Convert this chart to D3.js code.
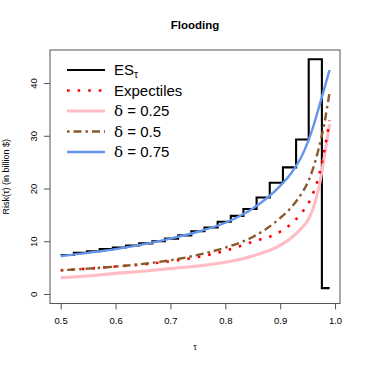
<!DOCTYPE html>
<html>
<head>
<meta charset="utf-8">
<script src="https://cdn.jsdelivr.net/npm/d3@7"></script>
<style>
  body { margin: 0; background: #fff; }
  svg text { font-family: "Liberation Sans", Arial, sans-serif; fill: #000; }
</style>
</head>
<body>
<svg width="366" height="366"></svg>
<script>
// tau grid of the smooth curves
var tauGrid = [0.5, 0.55, 0.6, 0.65, 0.7, 0.75, 0.8, 0.85, 0.9, 0.92, 0.94, 0.95, 0.96, 0.97, 0.98, 0.99];
var expectiles = [4.6, 4.9, 5.3, 5.7, 6.3, 7.1, 8.3, 10.0, 11.9, 13.4, 15.6, 17.0, 19.2, 22.3, 27.0, 33.0];
var delta25 = [3.2, 3.5, 4.0, 4.4, 4.9, 5.4, 6.1, 7.3, 9.3, 10.7, 12.7, 14.0, 16.3, 20.0, 25.8, 32.3];
var delta50 = [4.6, 4.9, 5.3, 5.8, 6.5, 7.5, 8.9, 10.9, 14.5, 16.5, 19.3, 21.2, 23.9, 27.6, 32.2, 38.3];
var delta75 = [7.3, 7.9, 8.6, 9.5, 10.6, 11.9, 13.6, 16.3, 20.6, 23.0, 26.4, 28.8, 31.8, 35.3, 38.9, 42.6];

// empirical ES (step function): break points and levels
var esTau = [0.5, 0.524, 0.548, 0.571, 0.595, 0.619, 0.643, 0.667, 0.69, 0.714, 0.738,
  0.762, 0.786, 0.81, 0.833, 0.857, 0.881, 0.905, 0.929, 0.952, 0.976, 0.99];
var esVal = [7.5, 7.9, 8.2, 8.6, 8.9, 9.3, 9.7, 10.1, 10.6, 11.2, 12.0,
  12.7, 13.8, 14.9, 16.2, 18.4, 21.2, 24.1, 29.4, 44.6, 1.2, 1.2];

var xTicks = [0.5, 0.6, 0.7, 0.8, 0.9, 1.0];
var yTicks = [0, 10, 20, 30, 40];

(function () {
  var svg = d3.select("svg");
  var left = 50, right = 340, top = 50, bottom = 303.5;

  var x = d3.scaleLinear().domain([0.4805, 1.009]).range([left, right]);
  var y = d3.scaleLinear().domain([-1.71, 46.36]).range([bottom, top]);

  svg.append("defs").append("clipPath").attr("id", "clip")
    .append("rect").attr("x", left).attr("y", top)
    .attr("width", right - left).attr("height", bottom - top);

  // title
  svg.append("text")
    .attr("x", (left + right) / 2).attr("y", 29)
    .attr("text-anchor", "middle")
    .style("font-weight", "bold").style("font-size", "11.5px")
    .text("Flooding");

  // axes
  var xAxis = svg.append("g").attr("transform", "translate(0," + bottom + ")")
    .call(d3.axisBottom(x).tickValues(xTicks).tickSize(6).tickPadding(8)
      .tickFormat(d3.format(".1f")));
  var yAxis = svg.append("g").attr("transform", "translate(" + left + ",0)")
    .call(d3.axisLeft(y).tickValues(yTicks).tickSize(6).tickPadding(0));
  [xAxis, yAxis].forEach(function (g) {
    g.select(".domain").remove();
    g.selectAll("line").attr("stroke", "#555");
    g.selectAll("text").style("font-size", "9.5px")
      .style("font-family", "'Liberation Sans', Arial, sans-serif");
  });
  yAxis.selectAll("text")
    .attr("x", 0).attr("dy", 0)
    .attr("text-anchor", "middle")
    .attr("transform", function (d) { return "translate(" + (-13) + "," + y(d) + ") rotate(-90)"; })
    .attr("y", 0);
  yAxis.selectAll(".tick").attr("transform", null);
  yAxis.selectAll(".tick line").attr("transform", function (d) { return "translate(0," + y(d) + ")"; });

  // box
  svg.append("rect").attr("x", left).attr("y", top)
    .attr("width", right - left).attr("height", bottom - top)
    .attr("fill", "none").attr("stroke", "#555").attr("stroke-width", 1);

  // axis titles
  svg.append("text")
    .attr("x", (left + right) / 2).attr("y", 350)
    .attr("text-anchor", "middle").style("font-size", "9px")
    .text("τ");
  svg.append("text")
    .attr("transform", "translate(9," + (top + bottom) / 2 + ") rotate(-90)")
    .attr("text-anchor", "middle").style("font-size", "9px")
    .text("Risk(τ) (in billion $)");

  var plot = svg.append("g").attr("clip-path", "url(#clip)");

  var smooth = d3.line()
    .x(function (d, i) { return x(tauGrid[i]); })
    .y(function (d) { return y(d); })
    .curve(d3.curveMonotoneX);

  var step = d3.line()
    .x(function (d, i) { return x(esTau[i]); })
    .y(function (d) { return y(d); })
    .curve(d3.curveStepAfter);

  var series = [
    { name: "es", data: esVal, gen: step, color: "#000", width: 2.1, dash: null },
    { name: "d25", data: delta25, gen: smooth, color: "#ffbcc4", width: 3.1, dash: null },
    { name: "exp", data: expectiles, gen: smooth, color: "#ff0000", width: 2.6, dash: "2.6,8" },
    { name: "d50", data: delta50, gen: smooth, color: "#8b5a2b", width: 2.4, dash: "2.5,4,8,4" },
    { name: "d75", data: delta75, gen: smooth, color: "#6495ed", width: 2.4, dash: null }
  ];

  series.forEach(function (s) {
    plot.append("path")
      .attr("d", s.gen(s.data))
      .attr("fill", "none")
      .attr("stroke", s.color)
      .attr("stroke-width", s.width)
      .attr("stroke-dasharray", s.dash);
  });

  // legend
  var legendRows = [
    { s: series[0], label: "es" },
    { s: series[2], label: "Expectiles" },
    { s: series[1], label: "0.25" },
    { s: series[3], label: "0.5" },
    { s: series[4], label: "0.75" }
  ];
  var lg = svg.append("g");
  legendRows.forEach(function (r, i) {
    var yy = 70 + i * 20.5;
    lg.append("line")
      .attr("x1", 67).attr("x2", 105).attr("y1", yy).attr("y2", yy)
      .attr("stroke", r.s.color).attr("stroke-width", r.s.width)
      .attr("stroke-dasharray", r.s.dash);
    var t = lg.append("text").attr("x", 114).attr("y", yy).attr("dy", "0.36em")
      .style("font-size", "15px");
    if (r.label === "es") {
      t.append("tspan").text("ES");
      t.append("tspan").attr("dy", "0.3em").style("font-size", "10px").text("τ");
    } else if (r.label === "Expectiles") {
      t.text("Expectiles");
    } else {
      t.append("tspan").style("font-family", "'DejaVu Serif', serif").text("δ");
      t.append("tspan").text(" = " + r.label);
    }
  });
})();
</script>
</body>
</html>
